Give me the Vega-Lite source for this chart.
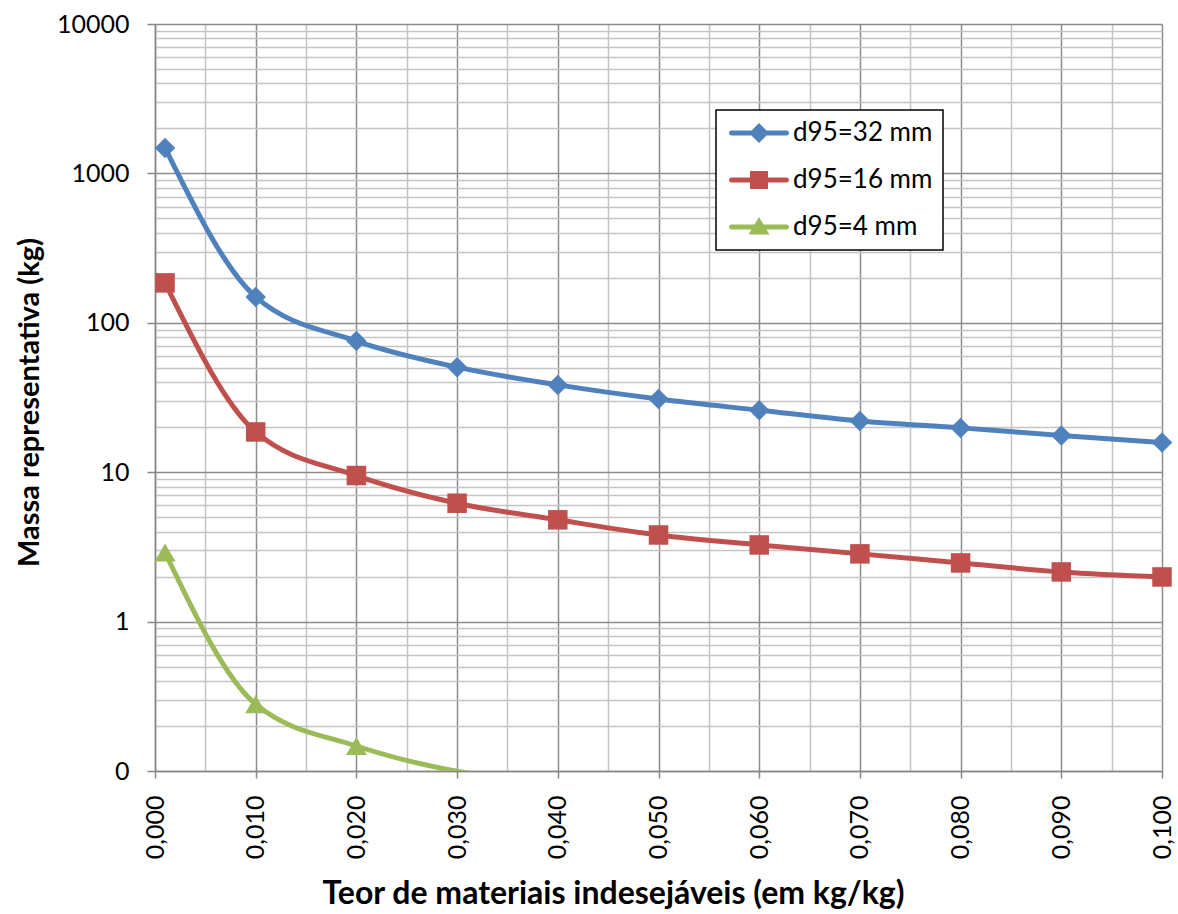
{
  "$schema": "https://vega.github.io/schema/vega-lite/v6.json",
  "autosize": {"type": "none"},
  "padding": {"left": 155, "top": 24, "right": 16, "bottom": 143},
  "width": 1007,
  "height": 747,
  "background": "white",
  "config": {
    "font": "Lato",
    "view": {"stroke": null},
    "legend": {"strokeWidth": 1.5}
  },
  "data": {
    "values": [
      {"x": 0.001, "mass": 1480, "series": "d95=32 mm"},
      {"x": 0.01, "mass": 149, "series": "d95=32 mm"},
      {"x": 0.02, "mass": 75.5, "series": "d95=32 mm"},
      {"x": 0.03, "mass": 50.5, "series": "d95=32 mm"},
      {"x": 0.04, "mass": 38.4, "series": "d95=32 mm"},
      {"x": 0.05, "mass": 30.9, "series": "d95=32 mm"},
      {"x": 0.06, "mass": 26, "series": "d95=32 mm"},
      {"x": 0.07, "mass": 22, "series": "d95=32 mm"},
      {"x": 0.08, "mass": 19.8, "series": "d95=32 mm"},
      {"x": 0.09, "mass": 17.6, "series": "d95=32 mm"},
      {"x": 0.1, "mass": 15.8, "series": "d95=32 mm"},
      {"x": 0.001, "mass": 185, "series": "d95=16 mm"},
      {"x": 0.01, "mass": 18.6, "series": "d95=16 mm"},
      {"x": 0.02, "mass": 9.5, "series": "d95=16 mm"},
      {"x": 0.03, "mass": 6.2, "series": "d95=16 mm"},
      {"x": 0.04, "mass": 4.8, "series": "d95=16 mm"},
      {"x": 0.05, "mass": 3.8, "series": "d95=16 mm"},
      {"x": 0.06, "mass": 3.26, "series": "d95=16 mm"},
      {"x": 0.07, "mass": 2.84, "series": "d95=16 mm"},
      {"x": 0.08, "mass": 2.47, "series": "d95=16 mm"},
      {"x": 0.09, "mass": 2.15, "series": "d95=16 mm"},
      {"x": 0.1, "mass": 1.99, "series": "d95=16 mm"},
      {"x": 0.001, "mass": 2.9, "series": "d95=4 mm"},
      {"x": 0.01, "mass": 0.28, "series": "d95=4 mm"},
      {"x": 0.02, "mass": 0.147, "series": "d95=4 mm"},
      {"x": 0.03, "mass": 0.0995, "series": "d95=4 mm"},
      {"x": 0.04, "mass": 0.082, "series": "d95=4 mm"}
    ]
  },
  "encoding": {
    "x": {
      "field": "x",
      "type": "quantitative",
      "scale": {"domain": [0, 0.1], "nice": false, "zero": false},
      "axis": {
        "title": "Teor de materiais indesejáveis (em kg/kg)",
        "titleFont": "Lato",
        "titleFontSize": 32,
        "titleFontWeight": "bold",
        "titleColor": "black",
        "titleX": 458,
        "titleY": 132,
        "titleAlign": "center",
        "titleBaseline": "alphabetic",
        "values": [0, 0.005, 0.01, 0.015, 0.02, 0.025, 0.03, 0.035, 0.04, 0.045, 0.05, 0.055, 0.06, 0.065, 0.07, 0.075, 0.08, 0.085, 0.09, 0.095, 0.1],
        "labelExpr": "round(datum.value * 1000) % 10 == 0 ? replace(format(datum.value, '.3f'), '.', ',') : ''",
        "labelAngle": -90,
        "labelAlign": "right",
        "labelBaseline": "middle",
        "labelFontSize": 25,
        "labelColor": "black",
        "labelPadding": 17,
        "labelOverlap": false,
        "labelFlush": false,
        "tickSize": 7,
        "tickWidth": 1.5,
        "tickColor": {"condition": {"test": "round(datum.value * 1000) % 10 == 0", "value": "#868686"}, "value": "transparent"},
        "domainColor": "#868686",
        "domainWidth": 1.5,
        "grid": true,
        "gridWidth": 1.5,
        "gridColor": {"condition": {"test": "round(datum.value * 1000) % 10 == 0", "value": "#8c8c8c"}, "value": "#c4c4c4"}
      }
    },
    "y": {
      "field": "mass",
      "type": "quantitative",
      "scale": {"type": "log", "domain": [0.1, 10000], "nice": false},
      "axis": {
        "title": "Massa representativa (kg)",
        "titleFont": "Lato",
        "titleFontSize": 29,
        "titleFontWeight": "bold",
        "titleColor": "black",
        "titleAngle": -90,
        "titleX": -117,
        "titleY": 378,
        "titleAlign": "center",
        "titleBaseline": "alphabetic",
        "values": [0.1, 0.2, 0.3, 0.4, 0.5, 0.6, 0.7, 0.8, 0.9, 1, 2, 3, 4, 5, 6, 7, 8, 9, 10, 20, 30, 40, 50, 60, 70, 80, 90, 100, 200, 300, 400, 500, 600, 700, 800, 900, 1000, 2000, 3000, 4000, 5000, 6000, 7000, 8000, 9000, 10000],
        "labelExpr": "abs(log(datum.value) / LN10 - round(log(datum.value) / LN10)) < 0.000001 ? (datum.value < 1 ? '0' : format(datum.value, 'd')) : ''",
        "labelFontSize": 25,
        "labelColor": "black",
        "labelPadding": 18,
        "labelOverlap": false,
        "labelFlush": false,
        "tickSize": 8,
        "tickWidth": 1.5,
        "tickColor": {"condition": {"test": "abs(log(datum.value) / LN10 - round(log(datum.value) / LN10)) < 0.000001", "value": "#868686"}, "value": "transparent"},
        "domainColor": "#868686",
        "domainWidth": 1.5,
        "grid": true,
        "gridWidth": 1.5,
        "gridColor": {"condition": {"test": "abs(log(datum.value) / LN10 - round(log(datum.value) / LN10)) < 0.000001", "value": "#8c8c8c"}, "value": "#c4c4c4"}
      }
    },
    "color": {
      "field": "series",
      "type": "nominal",
      "scale": {
        "domain": ["d95=32 mm", "d95=16 mm", "d95=4 mm"],
        "range": ["#4F81BD", "#C0504D", "#9BBB59"]
      },
      "legend": {
        "title": null,
        "orient": "none",
        "legendX": 561,
        "legendY": 86,
        "padding": 10,
        "fillColor": "white",
        "strokeColor": "black",
        "labelFontSize": 26,
        "labelColor": "black",
        "labelOffset": 41,
        "labelLimit": 300,
        "symbolSize": 400,
        "rowPadding": 21,
        "encode": {
          "symbols": {
            "update": {
              "shape": {"signal": "datum.value === 'd95=32 mm' ? 'M-0.75,-0.25H4.75A0.25,0.25 0 0 1 4.75,0.25H-0.75A0.25,0.25 0 0 1 -0.75,-0.25Z M2,-1L3,0L2,1L1,0Z' : (datum.value === 'd95=16 mm' ? 'M-0.75,-0.25H4.75A0.25,0.25 0 0 1 4.75,0.25H-0.75A0.25,0.25 0 0 1 -0.75,-0.25Z M1.1,-0.9H2.9V0.9H1.1Z' : 'M-0.75,-0.25H4.75A0.25,0.25 0 0 1 4.75,0.25H-0.75A0.25,0.25 0 0 1 -0.75,-0.25Z M2,-1L3.05,0.75H0.95Z')"},
              "fill": {"signal": "scale('color', datum.value)"},
              "stroke": {"value": "transparent"},
              "strokeWidth": {"value": 0},
              "opacity": {"value": 1}
            }
          }
        }
      }
    }
  },
  "layer": [
    {
      "mark": {"type": "line", "strokeWidth": 5, "interpolate": "monotone", "strokeCap": "round", "clip": true}
    },
    {
      "transform": [{"filter": "datum.series === 'd95=32 mm'"}],
      "mark": {"type": "point", "shape": "diamond", "filled": true, "size": 420, "opacity": 1, "strokeWidth": 0}
    },
    {
      "transform": [{"filter": "datum.series === 'd95=16 mm'"}],
      "mark": {"type": "point", "shape": "square", "filled": true, "size": 380, "opacity": 1, "strokeWidth": 0}
    },
    {
      "transform": [{"filter": "datum.series === 'd95=4 mm' && datum.mass >= 0.1"}],
      "mark": {"type": "point", "shape": "triangle-up", "filled": true, "size": 440, "opacity": 1, "strokeWidth": 0}
    }
  ]
}
